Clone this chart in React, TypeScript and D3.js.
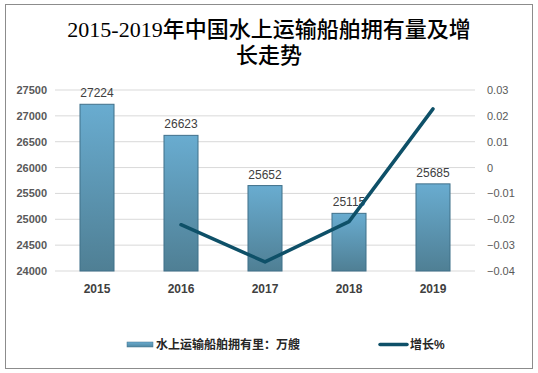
import React from "react";
import * as d3 from "d3";

const years = ["2015", "2016", "2017", "2018", "2019"];
const fleet = [27224, 26623, 25652, 25115, 25685];
const growthYears = ["2016", "2017", "2018", "2019"];
const growth = [-0.0221, -0.0365, -0.0209, 0.0227];
const leftTicks = [24000, 24500, 25000, 25500, 26000, 26500, 27000, 27500];
const rightTicks = [-0.04, -0.03, -0.02, -0.01, 0, 0.01, 0.02, 0.03];

export default function App() {
  const W = 538, H = 373;
  const x0 = 55, x1 = 475, yTop = 90, yBot = 271;
  const x = d3.scaleBand<string>().domain(years).range([x0, x1]).paddingInner(0.595).paddingOuter(0.2975);
  const yL = d3.scaleLinear().domain([24000, 27500]).range([yBot, yTop]);
  const yR = d3.scaleLinear().domain([-0.04, 0.03]).range([yBot, yTop]);
  const cx = (y: string) => (x(y) as number) + x.bandwidth() / 2;
  const line = d3.line<number>().x((_, i) => cx(growthYears[i])).y((d) => yR(d));
  const tickFont = "'Liberation Sans', Arial, sans-serif";
  const cjk = "'Liberation Sans', 'Noto Sans CJK SC', sans-serif";
  const titleFont = "'Liberation Serif', 'Noto Sans CJK SC', serif";
  return (
    <svg width={W} height={H} style={{ position: "absolute", left: 0, top: 0 }}>
      <defs>
        <linearGradient id="barG" x1="0" y1="0" x2="0" y2="1">
          <stop offset="0" stopColor="#69acd0" />
          <stop offset="1" stopColor="#4f7f94" />
        </linearGradient>
        <linearGradient id="legG" x1="0" y1="0" x2="0" y2="1">
          <stop offset="0" stopColor="#6aacd0" />
          <stop offset="1" stopColor="#4f86a0" />
        </linearGradient>
      </defs>
      <rect x={0} y={0} width={W} height={H} fill="#fff" />
      <rect x={5.5} y={4.5} width={527} height={364} fill="#fff" stroke="#8c8c8c" strokeWidth={1} />
      <text x={269} y={37} textAnchor="middle" fontSize={22} fontWeight={500} fontFamily={titleFont} fill="#000">
        2015-2019年中国水上运输船舶拥有量及增
      </text>
      <text x={269} y={63} textAnchor="middle" fontSize={22} fontWeight={500} fontFamily={titleFont} fill="#000">
        长走势
      </text>
      {leftTicks.map((t) => (
        <g key={"l" + t}>
          <line x1={x0} x2={x1} y1={yL(t)} y2={yL(t)} stroke="#d9d9d9" strokeWidth={1} />
          <text x={47} y={yL(t) + 4} textAnchor="end" fontSize={11} fontWeight="bold" fontFamily={tickFont} fill="#595959">
            {t}
          </text>
        </g>
      ))}
      {rightTicks.map((t) => (
        <text key={"r" + t} x={487} y={yR(t) + 4} textAnchor="start" fontSize={11} fontFamily={tickFont} fill="#595959">
          {t === 0 ? "0" : d3.format(".2f")(t)}
        </text>
      ))}
      {years.map((yr, i) => (
        <g key={yr}>
          <rect
            x={x(yr)}
            y={yL(fleet[i])}
            width={x.bandwidth()}
            height={yBot - yL(fleet[i])}
            fill="url(#barG)"
            stroke="#40708a"
            strokeWidth={1}
          />
          <text x={cx(yr)} y={yL(fleet[i]) - 7} textAnchor="middle" fontSize={12} fontFamily={tickFont} fill="#404040">
            {fleet[i]}
          </text>
          <text x={cx(yr)} y={293} textAnchor="middle" fontSize={12} fontWeight="bold" fontFamily={tickFont} fill="#404040">
            {yr}
          </text>
        </g>
      ))}
      <path d={line(growth) || ""} fill="none" stroke="#0e5068" strokeWidth={3.5} strokeLinejoin="round" strokeLinecap="round" />
      <rect x={127} y={342} width={26} height={5} fill="url(#legG)" stroke="#40708a" strokeWidth={0.5} />
      <text x={156} y={349} fontSize={12} fontWeight="bold" fontFamily={cjk} fill="#262626">
        水上运输船舶拥有里：万艘
      </text>
      <line x1={380} x2={407} y1={344.5} y2={344.5} stroke="#0e5068" strokeWidth={3.5} strokeLinecap="round" />
      <text x={410} y={349} fontSize={12} fontWeight="bold" fontFamily={cjk} fill="#262626">
        增长%
      </text>
    </svg>
  );
}
